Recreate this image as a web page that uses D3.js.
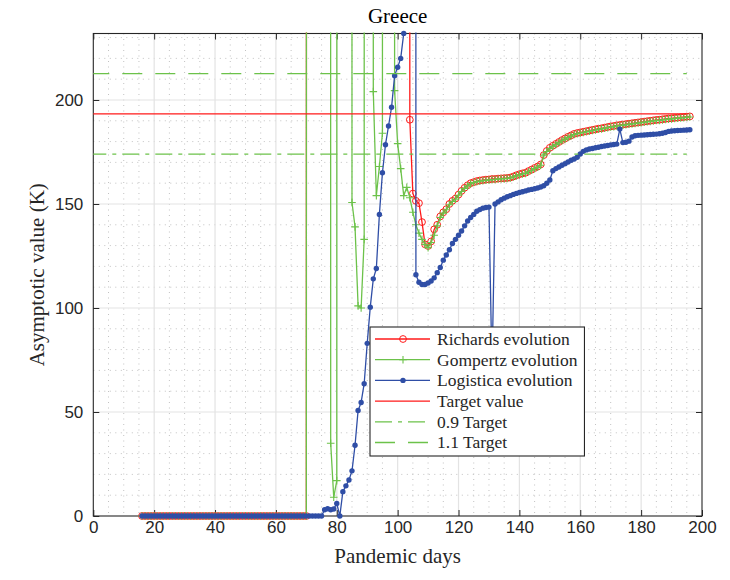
<!DOCTYPE html>
<html><head><meta charset="utf-8">
<script src="https://cdn.jsdelivr.net/npm/d3@7"></script>
<style>body{margin:0;background:#fff}svg{display:block}</style>
</head><body>
<svg id="c" width="730" height="580"></svg>
<script>
// ---------------- data ----------------
const firstDay = 16;          // first pandemic day plotted (daily up to 196)
const targetValue = 193.3;     // K
const targetSpan = [0, 195];   // days covered by the target lines
const xTickValues = [0,20,40,60,80,100,120,140,160,180,200];
const yTickValues = [0,50,100,150,200];
const chartTitle = "Greece";
const xLabel = "Pandemic days";
const yLabel = "Asymptotic value (K)";

// Richards evolution (K), days 16..196; 1e4 = off-chart estimate
const richards = [
 0,0,0,0,0,0,0,0,0,0, 0,0,0,0,0,0,0,0,0,0, 0,0,0,0,0,0,0,0,0,0,
 0,0,0,0,0,0,0,0,0,0, 0,0,0,0,0,0,0,0,0,0, 0,0,0,0,0,
 1e4,1e4,1e4,1e4,1e4,1e4,1e4,1e4,1e4,1e4, 1e4,1e4,1e4,1e4,1e4,1e4,1e4,1e4,1e4,1e4,
 1e4,1e4,1e4,1e4,1e4,1e4,1e4,1e4,1e4,1e4, 1e4,1e4,1e4,
 190.5,155,151.5,150.4,141.3,130.6,129.8,132,137.8,140,
 144,146,147.5,150,151.5,152.6,154.5,156.3,157.8,159,
 160,160.5,161,161.3,161.5,161.7,161.8,162,162,162.2,
 162.3,162.4,162.5,162.7,163.2,163.8,164.3,164.7,165,165.8,
 166.5,167.3,168,169,
 173.5,175.5,177,178,178.9,179.8,180.7,181.5,182.3,183,
 183.7,184.1,184.4,184.7,185,185.3,185.6,185.9,186.2,186.4,
 186.7,187,187.3,187.5,187.8,188,188.2,188.4,188.6,188.8,
 189,189.2,189.4,189.6,189.8,190,190.2,190.4,190.5,190.7,
 190.9,191.1,191.2,191.4,191.5,191.7,191.8,192,192.1
];

// Gompertz evolution (K), days 16..196
const gompertz = [
 0,0,0,0,0,0,0,0,0,0, 0,0,0,0,0,0,0,0,0,0, 0,0,0,0,0,0,0,0,0,0,
 0,0,0,0,0,0,0,0,0,0, 0,0,0,0,0,0,0,0,0,0, 0,0,0,0,0,
 1e4,1e4,1e4,1e4,1e4,1e4,1e4,
 35,9,17,
 1e4,1e4,1e4,1e4,
 150.7,139,101,100,133,
 1e4,1e4,
 204,154,168,184,
 1e4,1e4,1e4,
 204.5,179,167,154,158,153,146,140,136,133,
 130.5,129,131.5,135,139.5,143.5,145.6,147.2,149.6,151.2,
 152.3,154.2,156,157.5,158.7,159.7,160.3,160.7,161,161.2,
 161.4,161.5,161.7,161.8,162,162.1,162.2,162.3,162.5,163,
 163.5,164,164.4,164.7,165.5,166.2,167,167.7,168.6,173.2,
 175.2,176.7,177.7,178.6,179.5,180.4,181.2,182,182.7,183.4,
 183.8,184.1,184.4,184.7,185,185.3,185.6,185.9,186.1,186.4,
 186.7,187,187.2,187.5,187.7,187.9,188.1,188.3,188.5,188.7,
 188.9,189.1,189.3,189.5,189.7,189.9,190.1,190.2,190.4,190.6,
 190.8,190.9,191.1,191.2,191.4,191.5,191.7,191.8
];

// Logistica evolution (K), days 16..196
const logistica = [
 0,0,0,0,0,0,0,0,0,0, 0,0,0,0,0,0,0,0,0,0, 0,0,0,0,0,0,0,0,0,0,
 0,0,0,0,0,0,0,0,0,0, 0,0,0,0,0,0,0,0,0,0, 0,0,0,0,0,0,0,0,0,0,
 3,3.5,3,3.4,6,0,11.7,14.5,17.3,21.7,
 34,50.7,54.6,63.6,83,100.4,114,119,145,165,
 178.5,187.5,196.5,211.7,215.7,220,232,
 1e4,1e4,1e4,
 116,112.4,111.3,111.3,112,113,114.5,117,119.5,123,
 125.5,128,131,133,135,137,139.5,141.8,143.5,145,
 146.5,147.3,148,148.3,148.5,70,150,151,152,152.8,
 153.5,154,154.6,155.1,155.5,155.9,156.3,156.7,157,157.3,
 157.7,158.2,158.8,160,161.5,166,167,167.8,168.6,169.4,
 170.2,171,171.6,172.5,174,175.3,176,176.4,176.7,177,
 177.3,177.6,177.9,178.1,178.4,178.6,178.8,186,179.5,179.7,
 180.2,182.2,182.8,183,183.1,183.2,183.3,183.4,183.5,183.6,
 183.8,184,184.4,184.9,185.1,185.2,185.3,185.4,185.5,185.6,
 185.7
];

// ---------------- chart ----------------
const C_RED = "#ff1a1a", C_GREEN = "#6cc24a", C_BLUE = "#2f4ea6", C_AX = "#262626";
const DASH_09 = "17,6,4,6", DASH_11 = "20,13";
const L = 93.3, R = 702, T = 33.5, B = 516;
const x = d3.scaleLinear().domain([0, 200]).range([L, R]);
const y = d3.scaleLinear().domain([0, targetValue * 1.2]).range([B, T]);
const svg = d3.select("#c");

const days = richards.map((_, i) => firstDay + i);
const toPts = arr => arr.map((v, i) => ({d: days[i], v}));

// clip
svg.append("defs").append("clipPath").attr("id", "clip")
  .append("rect").attr("x", L - 1).attr("y", T - 1).attr("width", R - L + 2).attr("height", B - T + 2);

// grids
const gGrid = svg.append("g");
const xMinor = d3.range(5, 200, 5).filter(v => v % 20 !== 0);
const yMinor = d3.range(10, y.domain()[1], 10).filter(v => v % 50 !== 0);
gGrid.selectAll(".xm").data(xMinor).join("line")
  .attr("x1", d => x(d)).attr("x2", d => x(d)).attr("y1", T).attr("y2", B)
  .attr("stroke", "#c2c2c2").attr("stroke-width", 1).attr("stroke-dasharray", "1,4.5");
gGrid.selectAll(".ym").data(yMinor).join("line")
  .attr("y1", d => y(d)).attr("y2", d => y(d)).attr("x1", L).attr("x2", R)
  .attr("stroke", "#c2c2c2").attr("stroke-width", 1).attr("stroke-dasharray", "1,4.5");
gGrid.selectAll(".xM").data(xTickValues.filter(v => v > 0 && v < 200)).join("line")
  .attr("x1", d => x(d)).attr("x2", d => x(d)).attr("y1", T).attr("y2", B)
  .attr("stroke", "#e3e3e3").attr("stroke-width", 1.2);
gGrid.selectAll(".yM").data(yTickValues.filter(v => v > 0)).join("line")
  .attr("y1", d => y(d)).attr("y2", d => y(d)).attr("x1", L).attr("x2", R)
  .attr("stroke", "#e3e3e3").attr("stroke-width", 1.2);

// axes (ticks inward)
const fmt = d3.format("d");
const axB = svg.append("g").attr("transform", `translate(0,${B})`)
  .call(d3.axisBottom(x).tickValues(xTickValues).tickFormat(fmt).tickSizeInner(-6).tickSizeOuter(0).tickPadding(5));
const axT = svg.append("g").attr("transform", `translate(0,${T})`)
  .call(d3.axisTop(x).tickValues(xTickValues).tickFormat("").tickSizeInner(-6).tickSizeOuter(0));
const axL = svg.append("g").attr("transform", `translate(${L},0)`)
  .call(d3.axisLeft(y).tickValues(yTickValues).tickFormat(fmt).tickSizeInner(-6).tickSizeOuter(0).tickPadding(10));
const axR = svg.append("g").attr("transform", `translate(${R},0)`)
  .call(d3.axisRight(y).tickValues(yTickValues).tickFormat("").tickSizeInner(-6).tickSizeOuter(0));
[axB, axT, axL, axR].forEach(g => {
  g.select(".domain").remove();
  g.selectAll(".tick line").attr("stroke", C_AX).attr("stroke-width", 1);
  g.selectAll(".tick text").attr("fill", C_AX).attr("font-family", "Liberation Sans, Arial, sans-serif").attr("font-size", 17);
});
axB.selectAll(".tick text").attr("dy", "0.72em");
svg.append("rect").attr("x", L).attr("y", T).attr("width", R - L).attr("height", B - T)
  .attr("fill", "none").attr("stroke", C_AX).attr("stroke-width", 1.1);

// series
const gData = svg.append("g");
const line = d3.line().x(p => x(p.d)).y(p => y(p.v));
const vis = p => p.v >= 0 && p.v <= y.domain()[1] + 0.5;
function series(arr, color, marker) {
  const pts = toPts(arr);
  gData.append("path").attr("clip-path", "url(#clip)").attr("d", line(pts))
    .attr("fill", "none").attr("stroke", color).attr("stroke-width", 1.3).attr("stroke-linejoin", "round");
  const g = gData.append("g");
  const vp = pts.filter(vis);
  if (marker === "o") {
    g.selectAll("circle").data(vp).join("circle").attr("cx", p => x(p.d)).attr("cy", p => y(p.v))
      .attr("r", 3.4).attr("fill", "none").attr("stroke", color).attr("stroke-width", 1);
  } else if (marker === "+") {
    g.selectAll("path").data(vp).join("path")
      .attr("d", p => `M${x(p.d)-3.8},${y(p.v)}h7.6M${x(p.d)},${y(p.v)-3.8}v7.6`)
      .attr("stroke", color).attr("stroke-width", 1.1);
  } else {
    g.selectAll("circle").data(vp).join("circle").attr("cx", p => x(p.d)).attr("cy", p => y(p.v))
      .attr("r", 2.7).attr("fill", color);
  }
}
series(richards, C_RED, "o");
series(gompertz, C_GREEN, "+");
series(logistica, C_BLUE, ".");

// target lines
const refs = [
  {v: targetValue, color: C_RED, dash: null},
  {v: targetValue * 0.9, color: C_GREEN, dash: DASH_09},
  {v: targetValue * 1.1, color: C_GREEN, dash: DASH_11}
];
refs.forEach(r => {
  svg.append("line").attr("x1", x(targetSpan[0])).attr("x2", x(targetSpan[1]))
    .attr("y1", y(r.v)).attr("y2", y(r.v)).attr("stroke", r.color).attr("stroke-width", 1.3)
    .attr("stroke-dasharray", r.dash).attr("stroke-dashoffset", r.dash ? 4 : null);
});

// title & labels
const serif = "Liberation Serif, Times New Roman, serif";
svg.append("text").attr("x", (L + R) / 2).attr("y", 23).attr("text-anchor", "middle")
  .attr("font-family", serif).attr("font-size", 21).attr("fill", "#000").text(chartTitle);
svg.append("text").attr("x", (L + R) / 2).attr("y", 563).attr("text-anchor", "middle")
  .attr("font-family", serif).attr("font-size", 21).attr("fill", C_AX).text(xLabel);
svg.append("text").attr("transform", `translate(44,${(T + B) / 2}) rotate(-90)`).attr("text-anchor", "middle")
  .attr("font-family", serif).attr("font-size", 21).attr("fill", C_AX).text(yLabel);

// legend
const legendItems = [
  {label: "Richards evolution", color: C_RED, marker: "o", dash: null},
  {label: "Gompertz evolution", color: C_GREEN, marker: "+", dash: null},
  {label: "Logistica evolution", color: C_BLUE, marker: ".", dash: null},
  {label: "Target value", color: C_RED, marker: null, dash: null},
  {label: "0.9 Target", color: C_GREEN, marker: null, dash: DASH_09},
  {label: "1.1 Target", color: C_GREEN, marker: null, dash: DASH_11}
];
const lg = svg.append("g");
const lgBox = lg.append("rect").attr("x", 370).attr("y", 327).attr("height", 129)
  .attr("fill", "#fff").attr("stroke", C_AX).attr("stroke-width", 1.1);
let maxW = 0;
legendItems.forEach((it, i) => {
  const cy = 339 + i * 20.7;
  lg.append("line").attr("x1", 375).attr("x2", 430).attr("y1", cy).attr("y2", cy)
    .attr("stroke", it.color).attr("stroke-width", 1.3).attr("stroke-dasharray", it.dash);
  if (it.marker === "o") lg.append("circle").attr("cx", 403).attr("cy", cy).attr("r", 3.4)
    .attr("fill", "none").attr("stroke", it.color);
  if (it.marker === "+") lg.append("path").attr("d", `M399.2,${cy}h7.6M403,${cy-3.8}v7.6`)
    .attr("stroke", it.color).attr("stroke-width", 1.1);
  if (it.marker === ".") lg.append("circle").attr("cx", 403).attr("cy", cy).attr("r", 2.7).attr("fill", it.color);
  const t = lg.append("text").attr("x", 437).attr("y", cy).attr("dy", "0.34em")
    .attr("font-family", serif).attr("font-size", 17.5).attr("fill", C_AX).text(it.label);
  maxW = Math.max(maxW, t.node().getComputedTextLength());
});
lgBox.attr("width", 437 + maxW + 7 - 370);
</script>
</body></html>
